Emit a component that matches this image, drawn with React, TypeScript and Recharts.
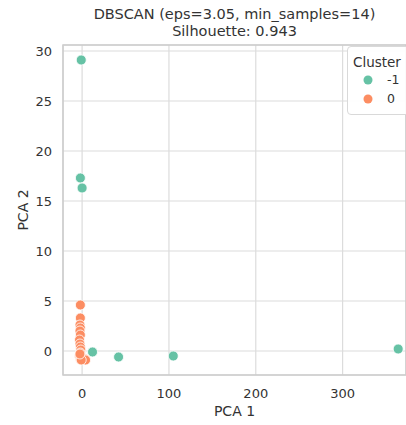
import React from 'react';
import { ScatterChart, Scatter, XAxis, YAxis, CartesianGrid, ReferenceArea } from 'recharts';

const noiseX = [-1, -2, 0, 12, 42, 105, 364];
const noiseY = [29.1, 17.3, 16.3, -0.1, -0.6, -0.5, 0.2];

const clusterX = [-2, -2, -2.5, -2, -2.5, -2, -3, -2.5, -2, -1.5, -2, -3, -2, 1, 3, 4, -1, -2.5];
const clusterY = [4.6, 3.3, 2.6, 2.3, 2.0, 1.6, 1.1, 0.7, 0.4, 0.1, -0.2, -0.5, -0.8, -0.7, -0.8, -0.9, -0.9, -0.3];

const xTicks = [0, 100, 200, 300];
const yTicks = [0, 5, 10, 15, 20, 25, 30];

const COLORS = ['#66c2a5', '#fc8d62'];
const LABELS = ['-1', '0'];

const noise = noiseX.map((x, i) => ({ x, y: noiseY[i] }));
const cluster = clusterX.map((x, i) => ({ x, y: clusterY[i] }));

const FONT = '"DejaVu Sans", sans-serif';

function LegendBox() {
  return (
    <div
      style={{
        position: 'absolute',
        left: 347,
        top: 46,
        width: 70,
        height: 69,
        border: '1px solid #d9d9d9',
        borderRadius: 4,
        background: 'rgba(255,255,255,0.9)',
        fontFamily: FONT,
        color: '#333',
        boxSizing: 'border-box',
        paddingTop: 7,
        paddingLeft: 5,
      }}
    >
      <div style={{ fontSize: 13.5, lineHeight: '16px' }}>Cluster</div>
      {LABELS.map((l, i) => (
        <div key={l} style={{ display: 'flex', alignItems: 'center', height: 19, fontSize: 12.5 }}>
          <svg width={30} height={12}>
            <circle cx={15} cy={6} r={4.5} fill={COLORS[i]} />
          </svg>
          <span style={{ marginLeft: 4 }}>{l}</span>
        </div>
      ))}
    </div>
  );
}

export default function App() {
  return (
    <div style={{ position: 'absolute', left: 0, top: 0, width: 406, height: 425, background: '#fff', overflow: 'hidden' }}>
      <div
        style={{
          position: 'absolute',
          left: 63,
          width: 343,
          top: 6,
          textAlign: 'center',
          fontFamily: FONT,
          fontSize: 14.5,
          lineHeight: '17px',
          color: '#333',
        }}
      >
        DBSCAN (eps=3.05, min_samples=14)
        <br />
        Silhouette: 0.943
      </div>
      <ScatterChart width={406} height={425} margin={{ top: 45, right: 0, bottom: 20, left: 23 }}>
        <CartesianGrid stroke="#dcdcdc" strokeWidth={1.2} />
        <XAxis
          type="number"
          dataKey="x"
          domain={[-22, 373]}
          ticks={xTicks}
          tickLine={false}
          axisLine={false}
          height={30}
          tick={{ fill: '#333', fontSize: 13, fontFamily: FONT, dy: 6 }}
          label={{ value: 'PCA 1', position: 'insideBottom', offset: -11, fill: '#333', fontSize: 14, fontFamily: FONT }}
        />
        <YAxis
          type="number"
          dataKey="y"
          domain={[-2.4, 30.6]}
          ticks={yTicks}
          tickLine={false}
          axisLine={false}
          width={40}
          tick={{ fill: '#333', fontSize: 13, fontFamily: FONT, dx: -3 }}
          label={{ value: 'PCA 2', angle: -90, position: 'insideLeft', offset: 0, fill: '#333', fontSize: 14, fontFamily: FONT, style: { textAnchor: 'middle' } }}
        />
        <ReferenceArea x1={-22} x2={373} y1={-2.4} y2={30.6} fill="none" stroke="#cccccc" strokeWidth={1.5} ifOverflow="visible" />
        <Scatter data={noise} fill={COLORS[0]} isAnimationActive={false} shape={(p: any) => <circle cx={p.cx} cy={p.cy} r={5} fill={COLORS[0]} stroke="#fff" strokeWidth={0.8} />} />
        <Scatter data={cluster} fill={COLORS[1]} isAnimationActive={false} shape={(p: any) => <circle cx={p.cx} cy={p.cy} r={5} fill={COLORS[1]} stroke="#fff" strokeWidth={0.8} />} />
      </ScatterChart>
      <LegendBox />
    </div>
  );
}
